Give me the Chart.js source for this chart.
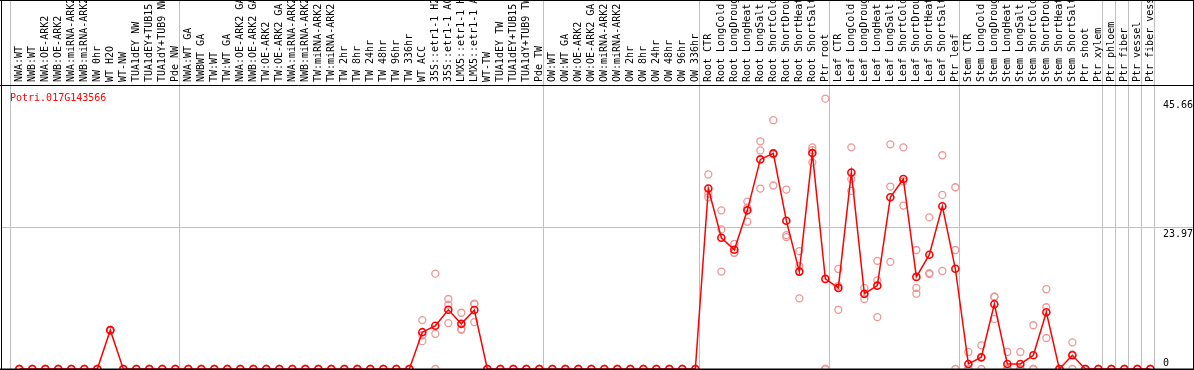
<!DOCTYPE html>
<html><head><meta charset="utf-8">
<script src="https://cdn.jsdelivr.net/npm/chart.js@4/dist/chart.umd.min.js"></script>
<style>html,body{margin:0;padding:0;background:#fff}#wrap{width:1194px;height:370px}</style>
</head><body><div id="wrap"><canvas id="c" width="1194" height="370"></canvas></div>
<script>
const geneId = "Potri.017G143566";
const categories = [
"NWA:WT","NWB:WT","NWA:OE-ARK2","NWB:OE-ARK2","NWA:miRNA-ARK2","NWB:miRNA-ARK2","NW 0hr","WT H2O","WT-NW","TUA1dEY NW",
"TUA1dEY+TUB15","TUA1dY+TUB9 NW","Pde NW","NWA:WT GA","NWBWT GA","TW:WT","TW:WT GA","NWA:OE-ARK2 GA","NWB:OE-ARK2 GA","TW:OE-ARK2",
"TW:OE-ARK2 GA","NWA:miRNA-ARK2","NWB:miRNA-ARK2","TW:miRNA-ARK2","TW:miRNA-ARK2","TW 2hr","TW 8hr","TW 24hr","TW 48hr","TW 96hr",
"TW 336hr","WT ACC","35S::etr1-1 H2","35S::etr1-1 AC","LMX5::etr1-1 H","LMX5::etr1-1 A","WT-TW","TUA1dEY TW","TUA1dEY+TUB15","TUA1dY+TUB9 TW",
"Pde TW","OW:WT","OW:WT GA","OW:OE-ARK2","OW:OE-ARK2 GA","OW:miRNA-ARK2","OW:miRNA-ARK2","OW 2hr","OW 8hr","OW 24hr",
"OW 48hr","OW 96hr","OW 336hr","Root CTR","Root LongCold","Root LongDroug","Root LongHeat","Root LongSalt","Root ShortCold","Root ShortDrou",
"Root ShortHeat","Root ShortSalt","Ptr root","Leaf CTR","Leaf LongCold","Leaf LongDroug","Leaf LongHeat","Leaf LongSalt","Leaf ShortCold","Leaf ShortDrou",
"Leaf ShortHeat","Leaf ShortSalt","Ptr leaf","Stem CTR","Stem LongCold","Stem LongDroug","Stem LongHeat","Stem LongSalt","Stem ShortCold","Stem ShortDrou",
"Stem ShortHeat","Stem ShortSalt","Ptr shoot","Ptr xylem","Ptr phloem","Ptr fiber","Ptr vessel","Ptr fiber vess"
];
const meanValues = [
0,0,0,0,0,0,0,6.56,0,0,
0,0,0,0,0,0,0,0,0,0,
0,0,0,0,0,0,0,0,0,0,
0,6.22,7.3,10.0,7.63,9.96,0,0,0,0,
0,0,0,0,0,0,0,0,0,0,
0,0,0,30.48,22.17,20.13,26.8,35.4,36.42,25.05,
16.45,36.47,15.22,13.7,33.2,12.72,14.08,29.0,32.09,15.56,
19.3,27.5,16.93,0.85,1.98,10.95,0.85,0.85,2.32,9.59,
0,2.32,0,0,0,0,0,0
];
const rep1 = [
0,0,0,0,0,0,0,6.6,0,0,
0,0,0,0,0,0,0,0,0,0,
0,0,0,0,0,0,0,0,0,0,
0,8.26,16.1,11.82,9.5,11.03,0,0,0,0,
0,0,0,0,0,0,0,0,0,0,
0,0,0,32.86,26.8,21.15,28.28,38.46,42.02,30.31,
19.9,37.44,45.66,16.9,37.44,13.69,18.27,37.95,37.44,20.1,
25.6,36.1,30.7,2.88,4.0,12.2,2.88,2.88,7.39,13.48,
0,4.5,0,0,0,0,0,0
];
const rep2 = [
0,0,0,0,0,0,0,6.5,0,0,
0,0,0,0,0,0,0,0,0,0,
0,0,0,0,0,0,0,0,0,0,
0,4.70,5.94,10.86,6.62,10.93,0,0,0,0,
0,0,0,0,0,0,0,0,0,0,
0,0,0,29.6,23.58,19.62,27.24,36.93,36.25,22.62,
17.36,36.98,0,14.04,32.06,12.65,14.98,30.82,31.7,13.69,
16.2,29.4,20.1,0,1.94,12.2,0,0,0,10.43,
0,2.46,0,0,0,0,0,0
];
const rep3 = [
0,0,0,0,0,0,0,6.6,0,0,
0,0,0,0,0,0,0,0,0,0,
0,0,0,0,0,0,0,0,0,0,
0,5.7,0,7.75,6.77,7.92,0,0,0,0,
0,0,0,0,0,0,0,0,0,0,
0,0,0,29.0,16.45,19.62,24.88,30.48,30.99,22.28,
11.93,34.89,0,10.0,30.08,11.82,8.77,18.1,27.6,12.72,
16.05,16.56,0,0,0,8.46,0,0,0,5.24,
0,0,0,0,0,0,0,0
];
const yTickValues = [0, 23.97, 45.66];
const yTickLabels = ["0", "23.97", "45.66"];
const groupBoundaries = [0, 13, 41, 53, 63, 73, 84, 85, 86, 87, 88];

const FONT = '10px "DejaVu Sans Mono", "Liberation Mono", monospace';
const GRID = '#c0c0c0';
const toPts = arr => arr.map((v, i) => ({x: i, y: v}));

const decor = {
  id: 'decor',
  beforeDatasetsDraw(chart) {
    const ctx = chart.ctx, a = chart.chartArea, xs = chart.scales.x, ys = chart.scales.y;
    ctx.save();
    ctx.lineWidth = 1;
    ctx.strokeStyle = GRID;
    groupBoundaries.forEach(k => {
      const px = Math.round(xs.getPixelForValue(k - 0.69)) + 0.5;
      ctx.beginPath(); ctx.moveTo(px, 0); ctx.lineTo(px, a.bottom); ctx.stroke();
    });
    yTickValues.forEach(v => {
      if (v === 0 || v === yTickValues[yTickValues.length - 1]) return;
      const py = Math.round(ys.getPixelForValue(v)) + 0.5;
      ctx.beginPath(); ctx.moveTo(a.left, py); ctx.lineTo(a.right, py); ctx.stroke();
    });
    ctx.strokeStyle = '#000';
    ctx.beginPath();
    ctx.moveTo(a.left + 0.5, 0); ctx.lineTo(a.left + 0.5, 370);
    ctx.moveTo(a.right + 0.5, 0); ctx.lineTo(a.right + 0.5, 370);
    ctx.moveTo(0, 0.5); ctx.lineTo(1194, 0.5);
    ctx.moveTo(0, a.top - 0.5); ctx.lineTo(1194, a.top - 0.5);
    ctx.stroke();
    ctx.font = FONT;
    ctx.fillStyle = '#000';
    ctx.textAlign = 'left';
    ctx.textBaseline = 'middle';
    categories.forEach((lab, i) => {
      const px = xs.getPixelForValue(i);
      ctx.save();
      ctx.translate(px + 0.5, a.top - 4);
      ctx.rotate(-Math.PI / 2);
      ctx.fillText(lab, 0, 0);
      ctx.restore();
    });
    ctx.fillStyle = '#ff0000';
    ctx.textBaseline = 'alphabetic';
    ctx.fillText(geneId, 10, 101);
    ctx.fillStyle = '#000';
    yTickValues.forEach((v, j) => {
      const py = ys.getPixelForValue(v);
      if (v === 0) { ctx.textBaseline = 'bottom'; ctx.fillText(yTickLabels[j], 1163, py - 1); }
      else { ctx.textBaseline = 'top'; ctx.fillText(yTickLabels[j], 1163, py + 2); }
    });
    ctx.restore();
  },
  afterDatasetsDraw(chart) {
    const ctx = chart.ctx, a = chart.chartArea;
    ctx.save();
    ctx.strokeStyle = '#000'; ctx.lineWidth = 2;
    ctx.beginPath(); ctx.moveTo(0, a.bottom + 0.5); ctx.lineTo(1194, a.bottom + 0.5); ctx.stroke();
    ctx.restore();
  }
};

const PINK = 'rgb(238,150,150)';
const repStyle = {
  showLine: false, pointRadius: 3.5, pointBorderWidth: 1.3,
  pointBorderColor: PINK, pointBackgroundColor: 'rgba(0,0,0,0)',
  borderColor: PINK, order: 2, clip: false
};

new Chart(document.getElementById('c'), {
  type: 'line',
  data: {
    datasets: [
      Object.assign({label: 'rep1', data: toPts(rep1)}, repStyle),
      Object.assign({label: 'rep2', data: toPts(rep2)}, repStyle),
      Object.assign({label: 'rep3', data: toPts(rep3)}, repStyle),
      {
        label: geneId, data: toPts(meanValues), order: 1, clip: false,
        borderColor: '#ff0000', borderWidth: 1.5, tension: 0,
        pointRadius: 3.5, pointBorderWidth: 1.6,
        pointBorderColor: '#ff0000', pointBackgroundColor: 'rgba(0,0,0,0)'
      }
    ]
  },
  options: {
    responsive: false, animation: false, devicePixelRatio: 1,
    layout: {autoPadding: false, padding: {left: 1, right: 1, top: 86, bottom: 1}},
    scales: {
      x: {type: 'linear', display: false, min: -1.408, max: 90.28},
      y: {type: 'linear', display: false, min: 0, max: 47.8}
    },
    plugins: {legend: {display: false}, tooltip: {enabled: false}}
  },
  plugins: [decor]
});
</script>
</body></html>
